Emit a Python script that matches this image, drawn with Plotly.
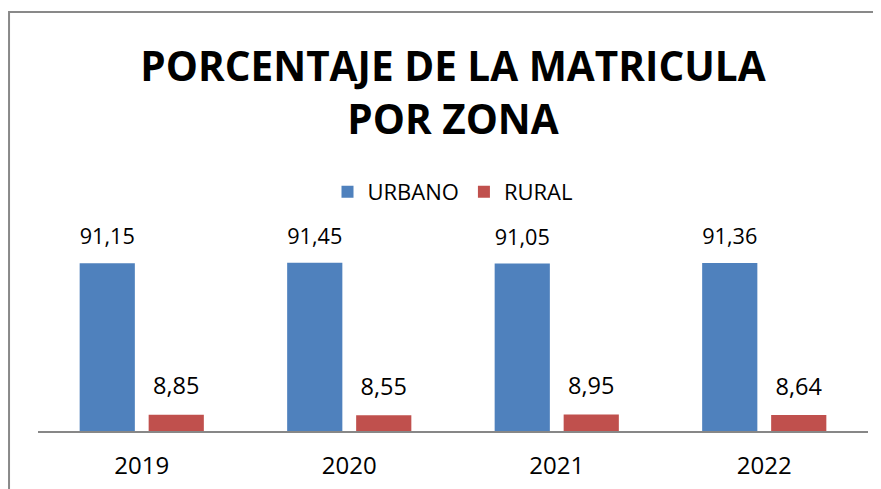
import plotly.graph_objects as go

years = ["2019", "2020", "2021", "2022"]
urbano = [91.15, 91.45, 91.05, 91.36]
rural = [8.85, 8.55, 8.95, 8.64]

FONT = "Open Sans"
# small trailing line lifts the value label a little above the bar
label_tpl = "<span style='font-size:23.5px'>%{y:.2f}</span><br> "

fig = go.Figure()
fig.add_trace(go.Bar(x=years, y=urbano, name="URBANO", marker_color="#4F81BD",
                     texttemplate=label_tpl, textposition="outside", cliponaxis=False))
fig.add_trace(go.Bar(x=years, y=rural, name="RURAL", marker_color="#C0504D",
                     texttemplate=label_tpl, textposition="outside", cliponaxis=False))

fig.update_traces(textfont=dict(family=FONT, size=11, color="#000000"),
                  marker_line_width=0)

# the page body adds an 8px offset, so the figure is 8px smaller than the window
fig.update_layout(
    width=873, height=481,
    paper_bgcolor="white", plot_bgcolor="white",
    separators=",.",
    margin=dict(l=30, r=13, t=239, b=58, autoexpand=False),
    barmode="group", bargap=0.335, bargroupgap=0.2,
    font=dict(family=FONT, size=22, color="#000000"),
    title=dict(text="PORCENTAJE DE LA MATRICULA<br>POR ZONA",
               font=dict(family=FONT, size=40.5, color="#000000", weight="bold"),
               x=0.5, xref="paper", xanchor="center",
               y=1 - 73 / 481, yref="container", yanchor="middle"),
    legend=dict(orientation="h", x=0.5, xanchor="center", y=1.299, yanchor="middle",
                font=dict(family=FONT, size=22), itemwidth=30),
    showlegend=True,
)

fig.update_xaxes(showline=True, linecolor="#878787", linewidth=2, automargin=False,
                 ticks="outside", ticklen=12, tickcolor="rgba(0,0,0,0)",
                 tickfont=dict(family=FONT, size=24), showgrid=False)
fig.update_yaxes(range=[0, 100], visible=False, showgrid=False, automargin=False)

# chart frame
fig.add_shape(type="rect", xref="paper", yref="paper",
              x0=-0.0349, x1=1.2, y0=-1.0, y1=2.277,
              line=dict(color="#898989", width=2), fillcolor="rgba(0,0,0,0)",
              layer="below")

fig.write_html("out.html")
